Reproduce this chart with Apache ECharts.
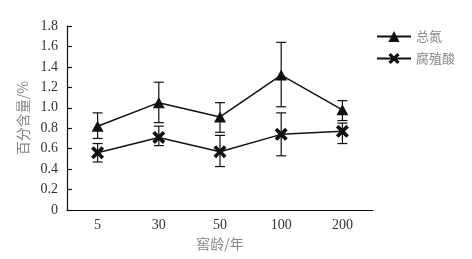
<!DOCTYPE html>
<html><head><meta charset="utf-8">
<script src="https://cdn.jsdelivr.net/npm/echarts@6/dist/echarts.min.js"></script>
<style>html,body{margin:0;padding:0;background:#fff}#c{width:472px;height:259px}</style>
</head><body><div id="c"></div>
<script>
var categories = ['5','30','50','100','200'];
var nitrogen = [0.82, 1.05, 0.91, 1.32, 0.98];
var nitrogenLow = [0.70, 0.855, 0.76, 1.01, 0.875];
var nitrogenHigh = [0.95, 1.25, 1.05, 1.64, 1.07];
var humic = [0.56, 0.71, 0.57, 0.74, 0.77];
var humicLow = [0.47, 0.63, 0.425, 0.53, 0.65];
var humicHigh = [0.65, 0.82, 0.73, 0.95, 0.85];
var yTicks = {min: 0, max: 1.8, interval: 0.2};

var xPath = 'path://M0,2 L2,0 L5,3 L8,0 L10,2 L7,5 L10,8 L8,10 L5,7 L2,10 L0,8 L3,5 Z';

function errData(lo, hi) { return lo.map(function (v, i) { return [i, v, hi[i]]; }); }
function errRender(params, api) {
  var x = api.value(0);
  var lo = api.coord([x, api.value(1)]);
  var hi = api.coord([x, api.value(2)]);
  var hw = 5;
  var st = {stroke: '#111', lineWidth: 1.2};
  return {type: 'group', children: [
    {type: 'line', shape: {x1: lo[0], y1: lo[1], x2: hi[0], y2: hi[1]}, style: st},
    {type: 'line', shape: {x1: lo[0]-hw, y1: lo[1], x2: lo[0]+hw, y2: lo[1]}, style: st},
    {type: 'line', shape: {x1: hi[0]-hw, y1: hi[1], x2: hi[0]+hw, y2: hi[1]}, style: st}
  ]};
}

var chart = echarts.init(document.getElementById('c'), null, {renderer: 'canvas'});
chart.setOption({
  animation: false,
  backgroundColor: '#fff',
  grid: {left: 67, top: 26, right: 99, bottom: 49},
  legend: {
    orient: 'vertical', left: 371, top: 25, itemGap: 9, itemWidth: 34, itemHeight: 14,
    data: ['总氮', '腐殖酸'],
    textStyle: {fontFamily: 'Noto Sans CJK SC', fontSize: 13, color: '#888'}
  },
  xAxis: {
    type: 'category', data: categories, boundaryGap: true,
    name: '窖龄/年', nameLocation: 'middle', nameGap: 27,
    nameTextStyle: {fontFamily: 'Noto Sans CJK SC', fontSize: 14, color: '#888'},
    axisLine: {lineStyle: {color: '#111', width: 1.2}},
    axisTick: {inside: true, length: 5, lineStyle: {color: '#111', width: 1.2}},
    axisLabel: {fontFamily: 'Liberation Serif', fontSize: 14, color: '#333', margin: 8}
  },
  yAxis: {
    type: 'value', min: yTicks.min, max: yTicks.max, interval: yTicks.interval,
    name: '百分含量/%', nameLocation: 'middle', nameGap: 35,
    nameTextStyle: {fontFamily: 'Noto Sans CJK SC', fontSize: 14, color: '#888'},
    splitLine: {show: false},
    axisLine: {show: true, lineStyle: {color: '#111', width: 1.2}},
    axisTick: {show: true, inside: true, length: 5, lineStyle: {color: '#111', width: 1.2}},
    axisLabel: {fontFamily: 'Liberation Serif', fontSize: 14, color: '#333', margin: 9,
      formatter: function (v) { return v === 0 ? '0' : v.toFixed(1); }}
  },
  series: [
    {type: 'custom', name: 'errN', data: errData(nitrogenLow, nitrogenHigh), renderItem: errRender, z: 1, silent: true},
    {type: 'custom', name: 'errH', data: errData(humicLow, humicHigh), renderItem: errRender, z: 1, silent: true},
    {type: 'line', name: '总氮', data: nitrogen, symbol: 'triangle', symbolSize: [12, 11],
      itemStyle: {color: '#111'}, lineStyle: {color: '#111', width: 1.5}, z: 3},
    {type: 'line', name: '腐殖酸', data: humic, symbol: xPath, symbolSize: 13,
      itemStyle: {color: '#111'}, lineStyle: {color: '#111', width: 1.5}, z: 3}
  ]
});
</script></body></html>
